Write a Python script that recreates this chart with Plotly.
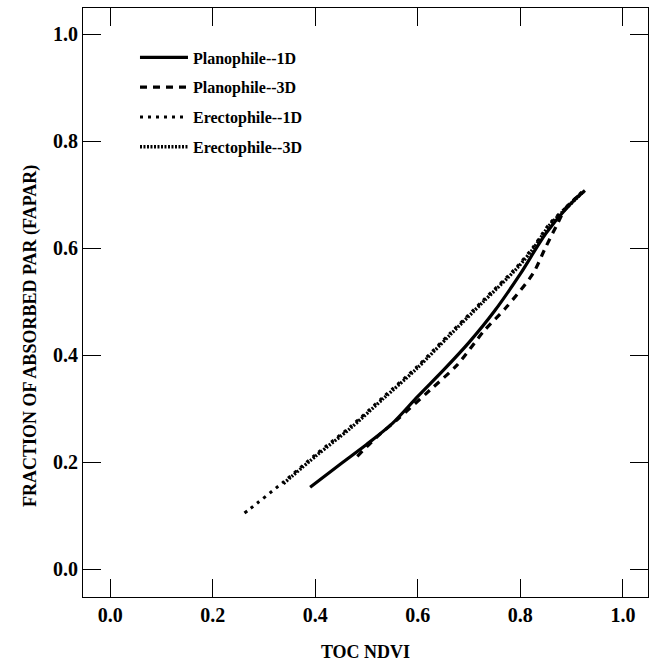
import plotly.graph_objects as go

# Data
plano1d_x = [0.390, 0.450, 0.500, 0.550, 0.600, 0.650, 0.700, 0.750, 0.800, 0.850, 0.900, 0.926]
plano1d_y = [0.153, 0.197, 0.233, 0.272, 0.323, 0.372, 0.424, 0.483, 0.552, 0.628, 0.685, 0.708]

plano3d_x = [0.482, 0.520, 0.559, 0.624, 0.676, 0.728, 0.773, 0.825, 0.848, 0.871, 0.890, 0.923]
plano3d_y = [0.211, 0.247, 0.279, 0.335, 0.381, 0.444, 0.490, 0.553, 0.599, 0.643, 0.677, 0.705]

erect1d_x = [0.262, 0.273, 0.338, 0.403, 0.468, 0.533, 0.598, 0.663, 0.728, 0.793, 0.825, 0.857, 0.890, 0.923]
erect1d_y = [0.105, 0.113, 0.163, 0.216, 0.266, 0.322, 0.378, 0.441, 0.503, 0.565, 0.602, 0.646, 0.677, 0.708]

erect3d_x = [0.338, 0.403, 0.468, 0.533, 0.598, 0.663, 0.728, 0.793, 0.825, 0.857, 0.890, 0.923]
erect3d_y = [0.160, 0.213, 0.263, 0.319, 0.375, 0.438, 0.500, 0.562, 0.599, 0.643, 0.675, 0.706]

tick_vals = [0.0, 0.2, 0.4, 0.6, 0.8, 1.0]
tick_text = ["0.0", "0.2", "0.4", "0.6", "0.8", "1.0"]

x_title = "TOC NDVI"
y_title = "FRACTION OF ABSORBED PAR (FAPAR)"

FONT = "Liberation Serif, Times New Roman, serif"

fig = go.Figure()
fig.add_trace(go.Scatter(x=plano1d_x, y=plano1d_y, mode="lines", name="Planophile--1D",
                         legendgroup="a",
                         line=dict(color="black", width=3.2, dash="solid", shape="spline", smoothing=0.8)))
fig.add_trace(go.Scatter(x=plano3d_x, y=plano3d_y, mode="lines", name="Planophile--3D",
                         legendgroup="b",
                         line=dict(color="black", width=3.2, dash="7px,6px", shape="spline", smoothing=0.8)))
fig.add_trace(go.Scatter(x=erect1d_x, y=erect1d_y, mode="lines", name="Erectophile--1D",
                         legendgroup="c",
                         line=dict(color="black", width=3, dash="3px,5px", shape="spline", smoothing=0.8)))
fig.add_trace(go.Scatter(x=erect3d_x, y=erect3d_y, mode="lines", name="Erectophile--3D",
                         legendgroup="d",
                         line=dict(color="black", width=3.4, dash="2px,1.5px", shape="spline", smoothing=0.8)))

axis_common = dict(
    showline=True, linecolor="black", linewidth=1, mirror="ticks",
    ticks="inside", ticklen=18, tickwidth=1, tickcolor="black",
    tickvals=tick_vals, ticktext=tick_text,
    showgrid=False, zeroline=False, automargin=False,
    tickfont=dict(family=FONT, size=20, color="black", weight="bold"),
)

fig.update_xaxes(range=[-0.053, 1.049],
                 title=dict(text="<b>" + x_title + "</b>", font=dict(family=FONT, size=18, color="black"), standoff=20),
                 **axis_common)
fig.update_yaxes(range=[-0.052, 1.049], **axis_common)

fig.add_annotation(text="<b>" + y_title + "</b>", textangle=-90,
                   xref="paper", yref="paper", x=-0.094, y=0.443,
                   xanchor="center", yanchor="middle", showarrow=False,
                   font=dict(family=FONT, size=18, color="black"))

fig.update_layout(
    width=656, height=662,
    margin=dict(l=83, r=8, t=8, b=65),
    paper_bgcolor="white", plot_bgcolor="white",
    showlegend=True,
    legend=dict(x=0.092, y=0.945, xanchor="left", yanchor="top",
                bgcolor="rgba(0,0,0,0)", itemwidth=48, tracegroupgap=6,
                font=dict(family=FONT, size=16, color="black", weight="bold")),
)

fig.write_html("out.html")
